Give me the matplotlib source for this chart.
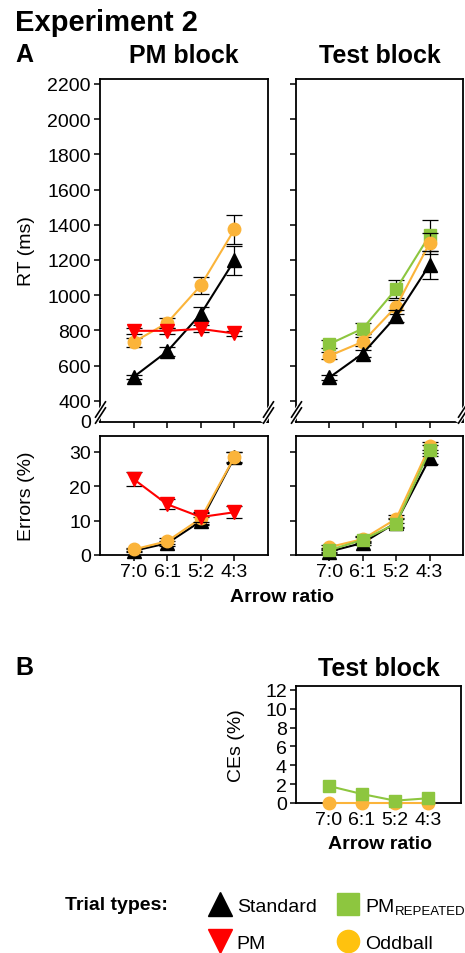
import matplotlib
matplotlib.use("Agg")
import matplotlib.pyplot as plt
from matplotlib.lines import Line2D

plt.rcParams['font.family'] = ['Liberation Sans', 'DejaVu Sans']

# ---------------- data ----------------
ratios = ['7:0', '6:1', '5:2', '4:3']
xpos = [1, 2, 3, 4]

rt_pm_standard = [535, 680, 893, 1197]
rt_pm_standard_se = [12, 25, 40, 80]
rt_pm_oddball = [733, 842, 1055, 1373]
rt_pm_oddball_se = [25, 30, 50, 85]
rt_pm_pm = [797, 797, 808, 782]
rt_pm_pm_se = [18, 18, 20, 15]

rt_test_standard = [532, 668, 880, 1172]
rt_test_standard_se = [12, 22, 35, 78]
rt_test_oddball = [655, 735, 935, 1295]
rt_test_oddball_se = [20, 25, 40, 60]
rt_test_pmrep = [722, 810, 1035, 1340]
rt_test_pmrep_se = [25, 30, 50, 88]

err_pm_standard = [1.2, 3.4, 9.8, 28.3]
err_pm_standard_se = [0.4, 0.7, 1.2, 1.5]
err_pm_oddball = [1.6, 4.0, 10.6, 28.4]
err_pm_oddball_se = [0.5, 0.8, 1.5, 1.5]
err_pm_pm = [22.0, 14.7, 11.0, 12.4]
err_pm_pm_se = [2.0, 1.5, 1.5, 1.7]

err_test_standard = [1.0, 3.5, 9.4, 28.0]
err_test_standard_se = [0.4, 0.6, 1.2, 1.5]
err_test_oddball = [2.3, 4.6, 10.5, 31.5]
err_test_oddball_se = [0.5, 0.8, 1.2, 1.2]
err_test_pmrep = [1.4, 4.4, 9.1, 30.3]
err_test_pmrep_se = [0.5, 0.8, 1.3, 1.5]

ce_test_pmrep = [1.8, 0.95, 0.25, 0.5]
ce_test_oddball = [0.0, 0.0, 0.0, 0.0]

rt_ticks = [400, 600, 800, 1000, 1200, 1400, 1600, 1800, 2000, 2200]
err_ticks = [0, 10, 20, 30]
ce_ticks = [0, 2, 4, 6, 8, 10, 12]

# ---------------- style ----------------
C_STD = 'black'
C_PM = '#FF0000'
C_ODD = '#FBB43A'
C_REP = '#8DC63F'
styles = {
    'std': dict(color=C_STD, marker='^', ms=9.5),
    'pm': dict(color=C_PM, marker='v', ms=9.5),
    'odd': dict(color=C_ODD, marker='o', ms=9),
    'rep': dict(color=C_REP, marker='s', ms=8),
}
FS = 14
W, H = 465, 954
fig = plt.figure(figsize=(W / 100, H / 100), dpi=100)


def axrect(l, r, t, b):
    return [l / W, (H - b) / H, (r - l) / W, (b - t) / H]


def style_ax(ax, xlabels):
    for s in ax.spines.values():
        s.set_linewidth(1.3)
    ax.tick_params(direction='out', length=4.5, width=1.1, labelsize=FS, pad=2,
                   top=False, right=False)
    ax.set_xlim(0, 5)
    ax.set_xticks(xpos)
    if xlabels:
        ax.set_xticklabels(ratios)
        ax.tick_params(axis='x', pad=1)
    else:
        ax.set_xticklabels([])


def series(ax, y, se, key, z):
    st = styles[key]
    if se is not None:
        ax.errorbar(xpos, y, yerr=se, fmt='none', ecolor='black', elinewidth=0.9,
                    capsize=6, capthick=0.9, zorder=z, clip_on=False)
    ax.plot(xpos, y, color=st['color'], lw=1.5, marker=st['marker'], ms=st['ms'],
            mec=st['color'], mfc=st['color'], zorder=z + 0.5, clip_on=False)


def breakmarks(ax, yfrac):
    path = [(-0.65, -1), (0.65, 1)]
    for xf in (0, 1):
        ax.plot([xf], [yfrac], transform=ax.transAxes, marker=path,
                ms=14, mew=5, color='white', clip_on=False, zorder=10, ls='none')
        for dy in (-0.009, 0.009):
            ax.plot([xf], [yfrac + dy], transform=ax.transAxes,
                    marker=path, ms=12, mew=1.2, color='black',
                    clip_on=False, zorder=11, ls='none')


RT_LO, RT_HI = 279, 2228
ZERO_POS = 285

# RT PM block
ax1 = fig.add_axes(axrect(100, 268, 80, 423))
style_ax(ax1, False)
series(ax1, rt_pm_standard, rt_pm_standard_se, 'std', 3)
series(ax1, rt_pm_oddball, rt_pm_oddball_se, 'odd', 4)
series(ax1, rt_pm_pm, rt_pm_pm_se, 'pm', 5)
ax1.set_ylim(RT_LO, RT_HI)
ax1.set_yticks([ZERO_POS] + rt_ticks)
ax1.set_yticklabels(['0'] + [str(v) for v in rt_ticks])
ax1.set_ylabel('RT (ms)', fontsize=FS)
ax1.yaxis.set_label_coords((35 - 100) / 168, 0.5)
ax1.set_title('PM block', fontsize=18, fontweight='bold', pad=12)
breakmarks(ax1, (423 - 413) / 343)

# RT Test block
ax2 = fig.add_axes(axrect(296, 463, 80, 423))
style_ax(ax2, False)
series(ax2, rt_test_pmrep, rt_test_pmrep_se, 'rep', 3)
series(ax2, rt_test_oddball, rt_test_oddball_se, 'odd', 4)
series(ax2, rt_test_standard, rt_test_standard_se, 'std', 5)
ax2.set_ylim(RT_LO, RT_HI)
ax2.set_yticks([ZERO_POS] + rt_ticks)
ax2.set_yticklabels([])
ax2.set_title('Test block', fontsize=18, fontweight='bold', pad=12)
breakmarks(ax2, (423 - 413) / 343)

# Errors PM block
ax3 = fig.add_axes(axrect(100, 268, 437, 556))
style_ax(ax3, True)
series(ax3, err_pm_standard, err_pm_standard_se, 'std', 3)
series(ax3, err_pm_oddball, err_pm_oddball_se, 'odd', 4)
series(ax3, err_pm_pm, err_pm_pm_se, 'pm', 5)
ax3.set_ylim(0, 34.5)
ax3.set_yticks(err_ticks)
ax3.set_ylabel('Errors (%)', fontsize=FS)
ax3.yaxis.set_label_coords((35 - 100) / 168, 0.5)

# Errors Test block
ax4 = fig.add_axes(axrect(296, 463, 437, 556))
style_ax(ax4, True)
series(ax4, err_test_standard, err_test_standard_se, 'std', 3)
series(ax4, err_test_oddball, err_test_oddball_se, 'odd', 4)
series(ax4, err_test_pmrep, err_test_pmrep_se, 'rep', 5)
ax4.set_ylim(0, 34.5)
ax4.set_yticks(err_ticks)
ax4.set_yticklabels([])

fig.text(282 / W, 1 - 598 / H, 'Arrow ratio', fontsize=FS, fontweight='bold',
         ha='center', va='center')

# Panel B
ax5 = fig.add_axes(axrect(296, 461, 687, 804))
style_ax(ax5, True)
series(ax5, ce_test_oddball, None, 'odd', 3)
series(ax5, ce_test_pmrep, None, 'rep', 4)
ax5.set_ylim(0, 12.4)
ax5.set_yticks(ce_ticks)
ax5.set_ylabel('CEs (%)', fontsize=FS)
ax5.yaxis.set_label_coords((245 - 296) / 165, 0.5)
ax5.set_title('Test block', fontsize=18, fontweight='bold', pad=8)
fig.text(380 / W, 1 - 845 / H, 'Arrow ratio', fontsize=FS, fontweight='bold',
         ha='center', va='center')

# Headings
fig.text(15 / W, 1 - 31 / H, 'Experiment 2', fontsize=21, fontweight='bold',
         ha='left', va='baseline')
fig.text(15 / W, 1 - 62 / H, 'A', fontsize=18, fontweight='bold', ha='left', va='baseline')
fig.text(15 / W, 1 - 675 / H, 'B', fontsize=18, fontweight='bold', ha='left', va='baseline')

# Legend
fig.text(65 / W, 1 - 906 / H, 'Trial types:', fontsize=FS, fontweight='bold',
         ha='left', va='center')
handles = [
    Line2D([], [], ls='none', marker='^', ms=17, color=C_STD),
    Line2D([], [], ls='none', marker='v', ms=17, color=C_PM),
    Line2D([], [], ls='none', marker='s', ms=16, color=C_REP),
    Line2D([], [], ls='none', marker='o', ms=16, color='#FFC20E'),
]
labels = ['Standard', 'PM', 'PM', 'Oddball']
leg = fig.legend(handles, labels, ncol=2, loc='upper left',
                 bbox_to_anchor=(210 / W, 1 - 898 / H), frameon=False, fontsize=FS,
                 handlelength=1.0, handletextpad=0.38, columnspacing=1.1,
                 labelspacing=1.0, borderpad=0, borderaxespad=0, numpoints=1)

# subscript for PM_REPEATED
fig.canvas.draw()
pm_rep_text = leg.get_texts()[2]
bb = pm_rep_text.get_window_extent()
fig.text(bb.x1 / W + 1 / W, bb.y0 / H + 1 / H, 'REPEATED', fontsize=9.5,
         ha='left', va='baseline')

fig.savefig('out.png', dpi=100)
